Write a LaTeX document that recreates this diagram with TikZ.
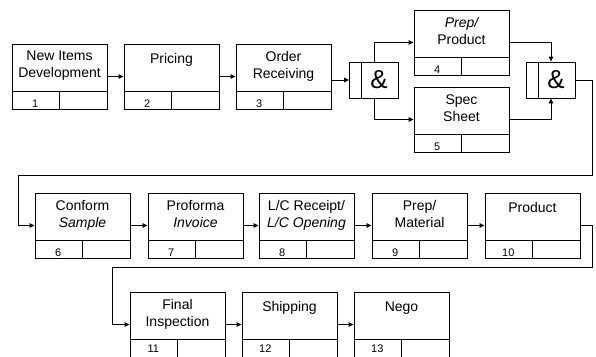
\documentclass[tikz,border=0pt]{standalone}
\usepackage{fontspec}
\newfontfamily\arial{Liberation Sans}
\usetikzlibrary{arrows.meta}
\tikzset{
 procbox/.style={draw, line width=0.9pt, minimum width=95pt, minimum height=65pt, inner sep=0pt},
 gatebox/.style={draw, line width=0.9pt, minimum width=49pt, minimum height=36pt, inner sep=0pt},
 lbl/.style={font=\arial\fontsize{14}{17}\selectfont, align=center, inner sep=0pt, anchor=north, execute at begin node=\strut},
 num/.style={font=\arial\fontsize{11}{12}\selectfont, inner sep=0pt},
 amp/.style={font=\arial\fontsize{26}{26}\selectfont, inner sep=0pt},
 conn/.style={line width=0.9pt, -{Triangle[length=5pt,width=4.5pt]}},
 rulel/.style={line width=0.9pt},
}
\newcommand\pbox[6][5.5]{%
 \node[procbox] (#2) at (#3+47.5,#4+32.5) {};
 \draw[rulel] ([yshift=18.5pt]#2.south west) -- ([yshift=18.5pt]#2.south east);
 \draw[rulel] ([xshift=47.5pt]#2.south west) -- ([xshift=47.5pt,yshift=18.5pt]#2.south west);
 \node[lbl] (#2t) at ([yshift=-7.5pt]#2.north) {#5};
 \node[num] (#2n) at ([xshift=23.75pt,yshift=#1pt]#2.south west) {#6};
}
\newcommand\gatebx[3]{%
 \node[gatebox] (#1) at (#2,#3) {};
 \draw[rulel] ([xshift=12pt]#1.north west) -- ([xshift=12pt]#1.south west);
 \node[amp] (#1a) at ([xshift=5pt]#1.center) {\&};
}
\begin{document}
\begin{tikzpicture}[x=1pt,y=-1pt]
\fill[white] (0,0) rectangle (596,356);
\useasboundingbox (0,0) rectangle (596,356);
% row 1
\pbox{b1}{12}{44}{New Items\\Development}{1}
\pbox{b2}{124}{44}{Pricing}{2}
\pbox{b3}{236}{44}{Order\\Receiving}{3}
\gatebx{g1}{374}{80}
\pbox{b4}{414}{10}{\itshape Prep/\\Product}{4}
\pbox{b5}{414}{87}{Spec\\Sheet}{5}
\gatebx{g2}{551}{80}
% row 2
\pbox{b6}{35}{193}{Conform\\\itshape Sample}{6}
\pbox{b7}{148}{193}{Proforma\\\itshape Invoice}{7}
\pbox{b8}{259}{193}{L/C Receipt/\\\itshape L/C Opening}{8}
\pbox{b9}{372}{193}{Prep/\\Material}{9}
\pbox{b10}{485}{193}{Product}{10}
% row 3
\pbox[9]{b11}{130}{292}{Final\\Inspection}{11}
\pbox[9]{b12}{242}{292}{Shipping}{12}
\pbox[9]{b13}{354}{292}{Nego}{13}
% turn points
\coordinate (c1) at (592,175);
\coordinate (c2) at (18,175);
\coordinate (c3) at (592,267);
\coordinate (c4) at (112,267);
% connectors
\draw[conn] (b1) -- (b2);
\draw[conn] (b2) -- (b3);
\draw[conn] (g1.west -| b3.east) -- (g1.west);
\draw[conn] (g1.north) |- (b4.west);
\draw[conn] (g1.south) |- (b5.west);
\draw[conn] (b4.east) -| (g2.north);
\draw[conn] (b5.east) -| (g2.south);
\draw[conn] (g2.east) -| (c1) -- (c2) |- (b6.west);
\draw[conn] (b6) -- (b7);
\draw[conn] (b7) -- (b8);
\draw[conn] (b8) -- (b9);
\draw[conn] (b9) -- (b10);
\draw[conn] (b10.east) -| (c3) -- (c4) |- (b11.west);
\draw[conn] (b11) -- (b12);
\draw[conn] (b12) -- (b13);
\end{tikzpicture}
\end{document}
